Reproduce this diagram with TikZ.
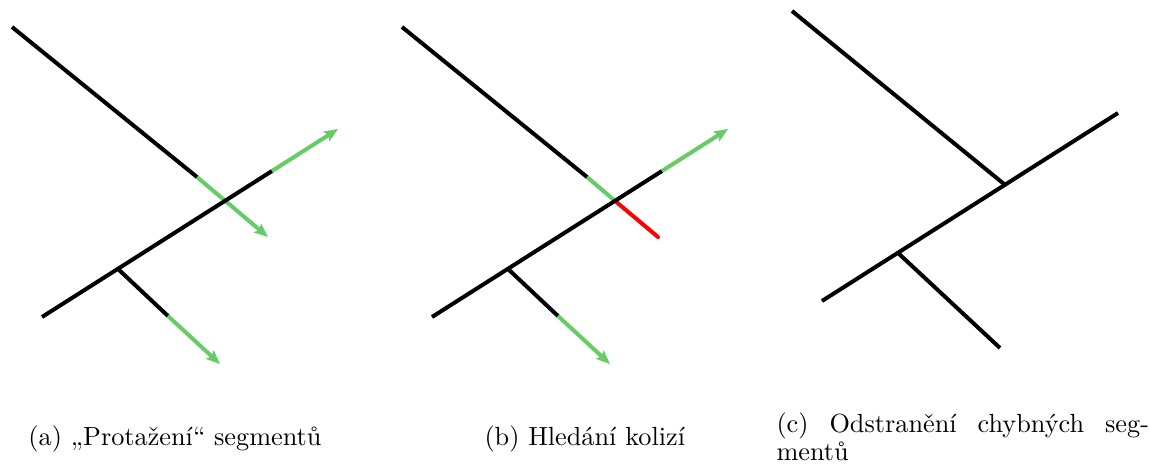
\documentclass[tikz,border=0pt]{standalone}
\usepackage{tikz}
\usetikzlibrary{arrows.meta}
\definecolor{extgreen}{HTML}{66CC66}
\tikzset{
  >={Stealth[length=5.5pt,width=4.5pt,inset=1pt]},
  seg/.style={draw=black,line width=1.6pt},
  ext/.style={->,draw=extgreen,line width=1.6pt},
  bad/.style={draw=red,line width=1.6pt,line cap=round},
  captext/.style={font=\fontsize{10.5pt}{11.4pt}\selectfont,inner sep=0pt},
}

\begin{document}
\begin{tikzpicture}[x=0.4pt,y=-0.4pt]
\useasboundingbox (0,0) rectangle (1149,466);
% one tree, copied three times
\foreach \p/\dx/\dy in {a/0/0,b/390/0,c/780/-16}{
  \begin{scope}[shift={(\dx,\dy)}]
  \coordinate (\p-top) at (12,27);
  \coordinate (\p-tg) at (197,177);
  \coordinate (\p-x) at (224,200);
  \coordinate (\p-tip) at (268,237);
  \coordinate (\p-m1) at (42,317);
  \coordinate (\p-mg) at (272,171);
  \coordinate (\p-mtip) at (338,129);
  \coordinate (\p-b0) at (117,268);
  \coordinate (\p-bg) at (168,316);
  \coordinate (\p-btip) at (220,364);
  \end{scope}}
% (a)
\draw[ext] (a-tg) -- (a-tip);
\draw[seg] (a-top) -- (a-tg);
\draw[seg] (a-m1) -- (a-mg);
\draw[ext] (a-mg) -- (a-mtip);
\draw[seg] (a-b0) -- (a-bg);
\draw[ext] (a-bg) -- (a-btip);
% (b)
\draw[bad] (b-x) -- (b-tip);
\draw[ext,-] (b-tg) -- (b-x);
\draw[seg] (b-top) -- (b-tg);
\draw[seg] (b-m1) -- (b-mg);
\draw[ext] (b-mg) -- (b-mtip);
\draw[seg] (b-b0) -- (b-bg);
\draw[ext] (b-bg) -- (b-btip);
% (c)
\draw[seg] (c-top) -- (c-x);
\draw[seg] (c-m1) -- (c-mtip);
\draw[seg] (c-b0) -- (c-btip);
% captions
\node[captext,anchor=base west] (a-cap) at (28,446) {(a) „Protažení“ segmentů};
\node[captext,anchor=base west] (b-cap) at (484,446) {(b) Hledání kolizí};
\node[captext,anchor=north west,text width=149pt,align=justify] (c-cap) at (776,412)
  {(c) Odstranění chybných seg-\linebreak mentů};
\end{tikzpicture}
\end{document}
